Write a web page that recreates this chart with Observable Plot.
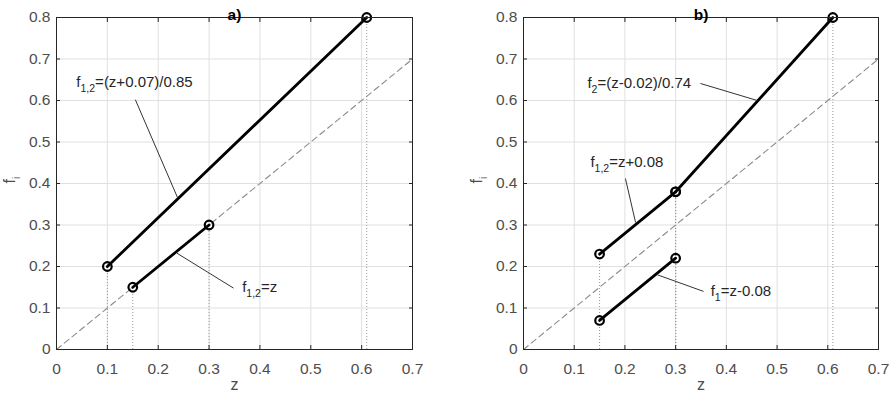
<!DOCTYPE html>
<html><head><meta charset="utf-8">
<script src="https://cdn.jsdelivr.net/npm/d3@7"></script>
<script src="https://cdn.jsdelivr.net/npm/@observablehq/plot@0.6"></script>
<style>
body{margin:0;background:#fff;}
#chart{display:flex;width:890px;height:394px;background:#fff;}
</style></head><body><div id="chart"></div>
<script>
const zTicks = [0, 0.1, 0.2, 0.3, 0.4, 0.5, 0.6, 0.7];
const fTicks = [0, 0.1, 0.2, 0.3, 0.4, 0.5, 0.6, 0.7, 0.8];
const diagZ = [0, 0.7];
const titles = ["a)", "b)"];
const xLabel = "z";
const yLabel = "f_{i}";

// panel a
const aSeries = ["upper", "upper", "lower", "lower"];
const aZ = [0.1, 0.61, 0.15, 0.3];
const aF = [0.2, 0.8, 0.15, 0.3];
const aLabels = ["f_{1,2}=(z+0.07)/0.85", "f_{1,2}=z"];
const aLabelZ = [0.039, 0.365];
const aLabelF = [0.644, 0.149];
const aLeadZ1 = [0.155, 0.348];
const aLeadF1 = [0.602, 0.148];
const aLeadZ2 = [0.238, 0.237];
const aLeadF2 = [0.366, 0.232];

// panel b
const bSeries = ["f12", "f12", "f2", "f2", "f1", "f1"];
const bZ = [0.15, 0.3, 0.3, 0.61, 0.15, 0.3];
const bF = [0.23, 0.38, 0.38, 0.8, 0.07, 0.22];
const bLabels = ["f_{2}=(z-0.02)/0.74", "f_{1,2}=z+0.08", "f_{1}=z-0.08"];
const bLabelZ = [0.126, 0.132, 0.369];
const bLabelF = [0.641, 0.4525, 0.141];
const bLeadZ1 = [0.349, 0.201, 0.355];
const bLeadF1 = [0.641, 0.412, 0.140];
const bLeadZ2 = [0.461, 0.221, 0.264];
const bLeadF2 = [0.600, 0.306, 0.180];

function subscripts(svg) {
  d3.select(svg).selectAll("text").each(function () {
    const t = this.textContent;
    if (!t.includes("_{")) return;
    const parts = t.split(/(_\{[^}]*\})/).filter(p => p);
    const sel = d3.select(this);
    sel.text(null);
    let shifted = false;
    for (const p of parts) {
      const m = p.match(/^_\{(.*)\}$/);
      if (m) {
        sel.append("tspan").attr("dy", "5px").attr("font-size", "10.5px").text(m[1]);
        shifted = true;
      } else {
        const ts = sel.append("tspan").text(p);
        if (shifted) { ts.attr("dy", "-5px"); shifted = false; }
      }
    }
  });
}

function panel(opts) {
  const {title, width, marginLeft, marginRight, series, Z, F, labels, labelZ, labelF, lz1, lf1, lz2, lf2} = opts;
  const pts = Z.map((z, i) => ({z, f: F[i], s: series[i]}));
  const labs = labels.map((t, i) => ({t, z: labelZ[i], f: labelF[i]}));
  const leaders = lz1.map((z, i) => ({z1: z, f1: lf1[i], z2: lz2[i], f2: lf2[i]}));
  const diag = diagZ.map(z => ({z, f: z}));
  const fmt = d => String(d);
  const svg = Plot.plot({
    width, height: 394, marginLeft, marginRight, marginTop: 17, marginBottom: 45,
    style: {fontFamily: "'Liberation Sans', Arial, sans-serif", fontSize: "15.5px", background: "#fff", color: "#4d4d4d"},
    x: {domain: [0, 0.7]},
    y: {domain: [0, 0.8]},
    marks: [
      Plot.gridX(zTicks, {stroke: "#e0e0e0", strokeOpacity: 1}),
      Plot.gridY(fTicks, {stroke: "#e0e0e0", strokeOpacity: 1}),
      Plot.ruleX(pts, {x: "z", y1: 0, y2: "f", stroke: "#9a9a9a", strokeWidth: 1, strokeDasharray: "1,2"}),
      Plot.line(diag, {x: "z", y: "f", stroke: "#8c8c8c", strokeWidth: 1.1, strokeDasharray: "6,4"}),
      Plot.line(pts, {x: "z", y: "f", z: "s", stroke: "#000", strokeWidth: 2.8}),
      Plot.dot(pts, {x: "z", y: "f", r: 4.3, stroke: "#000", strokeWidth: 2.2, fill: "none"}),
      Plot.link(leaders, {x1: "z1", y1: "f1", x2: "z2", y2: "f2", stroke: "#333", strokeWidth: 1}),
      Plot.text(labs, {x: "z", y: "f", text: "t", textAnchor: "start", fill: "#262626", fontSize: 15}),
      Plot.frame({stroke: "#262626"}),
      Plot.axisX(zTicks, {anchor: "bottom", tickSize: 0, tickPadding: 13, tickFormat: fmt, label: null, fill: "#4d4d4d"}),
      Plot.axisX(zTicks, {anchor: "bottom", tickSize: -4, tickFormat: () => "", label: null, stroke: "#262626"}),
      Plot.axisX(zTicks, {anchor: "top", tickSize: -4, tickFormat: () => "", label: null, stroke: "#262626"}),
      Plot.axisY(fTicks, {anchor: "left", tickSize: 0, tickPadding: 6, tickFormat: fmt, label: null, fill: "#4d4d4d"}),
      Plot.axisY(fTicks, {anchor: "left", tickSize: -4, tickFormat: () => "", label: null, stroke: "#262626"}),
      Plot.axisY(fTicks, {anchor: "right", tickSize: -4, tickFormat: () => "", label: null, stroke: "#262626"}),
      Plot.text([title], {text: d => d, frameAnchor: "top", dy: -9, fontWeight: "bold", fontSize: 15.5, fill: "#000"}),
      Plot.text([xLabel], {text: d => d, frameAnchor: "bottom", dy: 40, fontSize: 16, fill: "#4d4d4d"}),
      Plot.text([yLabel], {text: d => d, frameAnchor: "left", dx: -47, rotate: -90, fontSize: 16, fill: "#4d4d4d"})
    ]
  });
  subscripts(svg);
  return svg;
}

const chart = document.getElementById("chart");
chart.append(panel({title: titles[0], width: 445, marginLeft: 56, marginRight: 33,
  series: aSeries, Z: aZ, F: aF, labels: aLabels, labelZ: aLabelZ, labelF: aLabelF,
  lz1: aLeadZ1, lf1: aLeadF1, lz2: aLeadZ2, lf2: aLeadF2}));
chart.append(panel({title: titles[1], width: 445, marginLeft: 78, marginRight: 12,
  series: bSeries, Z: bZ, F: bF, labels: bLabels, labelZ: bLabelZ, labelF: bLabelF,
  lz1: bLeadZ1, lf1: bLeadF1, lz2: bLeadZ2, lf2: bLeadF2}));
</script></body></html>
